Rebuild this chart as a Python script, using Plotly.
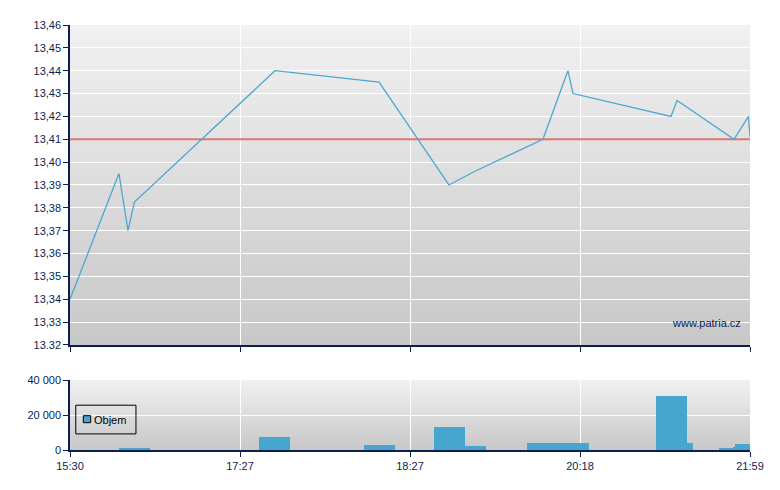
import plotly.graph_objects as go

# ---- data ----
# x positions are in "trade sequence" units; tick labels sit at 0..4
tick_pos = [0, 1, 2, 3, 4]
tick_labels = ["15:30", "17:27", "18:27", "20:18", "21:59"]

price_ticks = [13.32, 13.33, 13.34, 13.35, 13.36, 13.37, 13.38, 13.39, 13.40,
               13.41, 13.42, 13.43, 13.44, 13.45, 13.46]
price_tick_labels = ["13.32", "13,33", "13,34", "13,35", "13,36", "13,37", "13,38", "13,39",
                     "13,40", "13,41", "13,42", "13,43", "13,44", "13,45", "13,46"]

price_x = [0, 0.288, 0.341, 0.379, 1.206, 1.818, 2.229, 2.382, 2.782, 2.929,
           2.959, 3.535, 3.571, 3.906, 3.991, 4.0]
price_y = [13.34, 13.395, 13.37, 13.3825, 13.44, 13.435, 13.39, 13.396, 13.41, 13.44,
           13.43, 13.42, 13.427, 13.41, 13.42, 13.411]

ref_price = 13.41

vol_x = [0.379, 1.203, 1.821, 2.232, 2.385, 2.779, 2.962, 3.538, 3.647, 3.859, 3.906, 3.956]
vol_w = [0.182, 0.182, 0.182, 0.182, 0.124, 0.182, 0.182, 0.182, 0.035, 0.082, 0.012, 0.088]
vol_y = [1100, 7400, 2900, 13000, 2300, 4000, 4000, 31000, 4000, 1200, 2000, 3500]

vol_ticks = [0, 20000, 40000]
vol_tick_labels = ["0", "20 000", "40 000"]

legend_name = "Objem"
watermark = "www.patria.cz"

NAVY = "#0a1f4f"
LINE = "#4ba8d1"
BAR = "#47a6cd"
FONT = "Liberation Sans, Arial, sans-serif"

fig = go.Figure()

fig.add_trace(go.Scatter(x=[tick_pos[0], tick_pos[-1]], y=[ref_price, ref_price],
                         mode="lines", line=dict(color="#e07575", width=2),
                         showlegend=False, hoverinfo="skip", xaxis="x", yaxis="y"))
fig.add_trace(go.Scatter(x=price_x, y=price_y, mode="lines",
                         line=dict(color=LINE, width=1.3),
                         showlegend=False, xaxis="x", yaxis="y"))
fig.add_trace(go.Bar(x=vol_x, y=vol_y, width=vol_w, name=legend_name,
                     marker=dict(color=BAR, line=dict(width=0)),
                     showlegend=False, xaxis="x2", yaxis="y2"))

# gradient backgrounds
shapes = []
N = 40
for ax in ["", "2"]:
    for i in range(N):
        t = i / (N - 1)
        c = int(200 + (241 - 200) * t)
        shapes.append(dict(type="rect", xref="x%s domain" % ax, yref="y%s domain" % ax,
                           x0=0, x1=1, y0=i / N, y1=min(1, (i + 1.6) / N),
                           fillcolor="rgb(%d,%d,%d)" % (c, c, c), line=dict(width=0),
                           layer="below"))

# manual legend box (bottom panel)
shapes.append(dict(type="rect", xref="x2 domain", yref="y2 domain",
                   x0=0.0085, x1=0.097, y0=0.23, y1=0.64,
                   line=dict(color="black", width=1), fillcolor="rgba(0,0,0,0)", layer="above"))
shapes.append(dict(type="rect", xref="x2 domain", yref="y2 domain",
                   x0=0.0196, x1=0.0304, y0=0.39, y1=0.49,
                   line=dict(color="black", width=1), fillcolor=BAR, layer="above"))

axis_common = dict(showline=True, linecolor=NAVY, linewidth=1.5, ticks="outside",
                   tickcolor=NAVY, ticklen=5,
                   tickfont=dict(color=NAVY, size=11, family=FONT),
                   showgrid=True, gridcolor="white", gridwidth=1, zeroline=False)

fig.update_layout(
    width=780, height=490,
    margin=dict(l=70, r=30, t=25, b=40),
    paper_bgcolor="white", plot_bgcolor="rgba(0,0,0,0)",
    shapes=shapes,
    bargap=0,
    showlegend=False,
    xaxis=dict(**axis_common, domain=[0, 1], anchor="y", range=[0, 4],
               tickvals=tick_pos, ticktext=tick_labels, showticklabels=False),
    yaxis=dict(**axis_common, domain=[0.2471, 1], anchor="x", range=[13.32, 13.46],
               tickvals=price_ticks, ticktext=price_tick_labels),
    xaxis2=dict(**axis_common, domain=[0, 1], anchor="y2", range=[0, 4],
                tickvals=tick_pos, ticktext=tick_labels),
    yaxis2=dict(**axis_common, domain=[0, 0.1647], anchor="x2", range=[0, 40000],
                tickvals=vol_ticks, ticktext=vol_tick_labels),
    annotations=[
        dict(text=watermark, xref="x domain", yref="y domain",
             x=0.99, y=0.07, xanchor="right", yanchor="middle", showarrow=False,
             font=dict(color=NAVY, size=11, family=FONT)),
        dict(text=legend_name, xref="x2 domain", yref="y2 domain",
             x=0.033, y=0.435, xanchor="left", yanchor="middle", showarrow=False,
             font=dict(color="black", size=11, family=FONT)),
    ],
)

fig.write_html("out.html", config={"displayModeBar": False},
               post_script="document.body.style.margin='0px';")
